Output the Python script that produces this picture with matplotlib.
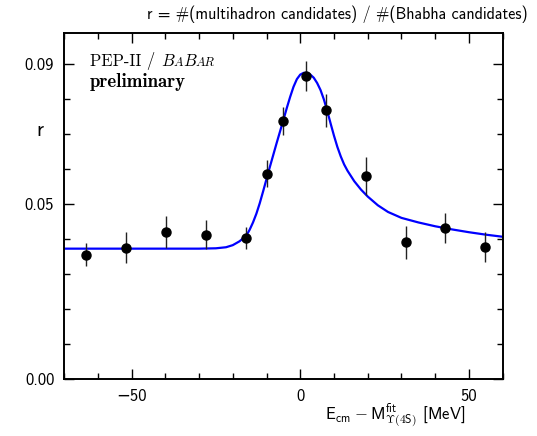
import matplotlib
matplotlib.use("Agg")
import matplotlib.pyplot as plt
from matplotlib.ticker import MultipleLocator, FixedLocator, FormatStrFormatter
from matplotlib.offsetbox import TextArea, HPacker, VPacker, AnchoredOffsetbox

plt.rcParams['font.family'] = ['cmss10', 'DejaVu Sans']
plt.rcParams['mathtext.fontset'] = 'cm'
plt.rcParams['axes.unicode_minus'] = True

# scan points (E_cm - M_fit in MeV) and ratio r
scan_x = [-63.4, -51.6, -39.7, -27.9, -16.1, -10.0, -5.1, 1.8, 7.6, 19.6, 31.2, 42.9, 54.7]
scan_r = [0.0356, 0.0376, 0.0421, 0.0413, 0.0404, 0.0588, 0.0738, 0.0867, 0.0769,
          0.0580, 0.0391, 0.0431, 0.0378]
scan_err = [0.0032, 0.0045, 0.0046, 0.0041, 0.0032, 0.0038, 0.0040, 0.0042, 0.0047,
            0.0054, 0.0048, 0.0043, 0.0042]

# fitted line shape
fit_x = [-70, -60, -50, -40, -30, -25, -22, -20, -18, -16, -15, -14, -13, -12, -11, -10,
         -9, -8, -7, -6, -5, -4, -3, -2, -1, 0, 1, 2, 3, 4, 5, 6, 7, 8, 9, 10, 11,
         12, 13, 14, 16, 18, 20, 23, 26, 30, 35, 40, 45, 50, 55, 60]
fit_r = [0.0373, 0.0373, 0.0373, 0.0373, 0.0373, 0.0374, 0.0377, 0.0383, 0.0394, 0.0410,
         0.0427, 0.0448, 0.0473, 0.0503, 0.0537, 0.0572, 0.0607, 0.0641, 0.0675, 0.0708,
         0.0741, 0.0775, 0.0807, 0.0836, 0.0858, 0.0871, 0.0876, 0.0876, 0.0871, 0.0862,
         0.0847, 0.0827, 0.0800, 0.0767, 0.0731, 0.0696, 0.0664, 0.0637, 0.0614, 0.0596,
         0.0566, 0.0542, 0.0522, 0.0497, 0.0478, 0.0461, 0.0448, 0.0437, 0.0428, 0.0420,
         0.0413, 0.0407]

fig = plt.figure(figsize=(5.37, 4.36), dpi=100)
ax = fig.add_axes([0.1192, 0.1307, 0.8170, 0.7936])

ax.plot(fit_x, fit_r, color='#0000ff', lw=1.6, zorder=2)
ax.errorbar(scan_x, scan_r, yerr=scan_err, fmt='o', color='k', ecolor='#222222',
            elinewidth=1.0, ms=6.5, capsize=0, zorder=3)

ax.set_xlim(-70, 60)
ax.set_ylim(0, 0.099)

ax.xaxis.set_major_locator(FixedLocator([-50, 0, 50]))
ax.xaxis.set_minor_locator(MultipleLocator(10))
ax.yaxis.set_major_locator(FixedLocator([0.0, 0.05, 0.09]))
ax.yaxis.set_minor_locator(MultipleLocator(0.01))
ax.yaxis.set_major_formatter(FormatStrFormatter('%.2f'))
ax.tick_params(which='both', direction='in', top=True, right=True, labelsize=12, width=1)
ax.tick_params(which='major', length=7, pad=7)
ax.tick_params(which='minor', length=4)
for sp in ax.spines.values():
    sp.set_linewidth(1.4)

ax.set_ylabel('r', rotation=0, fontsize=15)
ax.yaxis.set_label_coords(-0.055, 0.69)
ax.set_xlabel(r'$\mathsf{E_{cm}} - \mathsf{M^{fit}_{\Upsilon(4S)}}$ [MeV]', fontsize=12,
              ha='right', va='center')
ax.xaxis.set_label_coords(0.916, -0.106)

fig.text(0.628, 0.968, 'r = #(multihadron candidates) / #(Bhabha candidates)',
         ha='center', va='center', fontsize=11.6)

# experiment label
row = HPacker(children=[
    TextArea('PEP-II / ', textprops=dict(family='cmr10', size=12)),
    TextArea('B', textprops=dict(family='cmmi10', size=12)),
    TextArea('A', textprops=dict(family='cmmi10', size=9)),
    TextArea('B', textprops=dict(family='cmmi10', size=12)),
    TextArea('AR', textprops=dict(family='cmmi10', size=9)),
], align='baseline', pad=0, sep=0)
prelim = TextArea('preliminary', textprops=dict(family='cmb10', size=13.5))
box = VPacker(children=[row, prelim], align='left', pad=0, sep=2)
anch = AnchoredOffsetbox(loc='upper left', child=box, frameon=False,
                         bbox_to_anchor=(0.047, 0.96), bbox_transform=ax.transAxes,
                         borderpad=0)
ax.add_artist(anch)

fig.savefig('out.png', dpi=100)
